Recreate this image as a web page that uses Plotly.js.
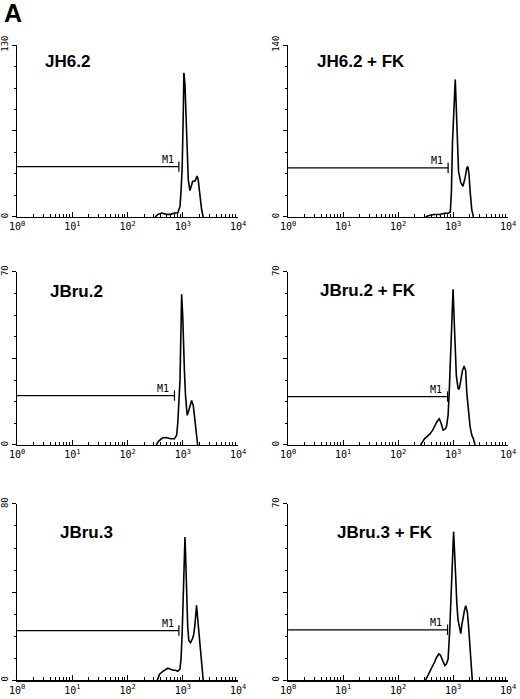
<!DOCTYPE html>
<html>
<head>
<meta charset="utf-8">
<script src="https://cdn.plot.ly/plotly-3.0.1.min.js"></script>
<style>html,body{margin:0;padding:0;background:#fff}</style>
</head>
<body>
<div id="chart" style="width:520px;height:699px"></div>
<script>
// panel labels and y-axis top count
var panelNames = ["JH6.2", "JH6.2 + FK", "JBru.2", "JBru.2 + FK", "JBru.3", "JBru.3 + FK"];
var yMax = [130, 140, 70, 70, 80, 70];

// histograms: channel position in decades (log10 of fluorescence) and counts
var jh62Log = [2.50, 2.55, 2.62, 2.70, 2.78, 2.85, 2.91, 2.95, 2.97, 2.99, 3.01, 3.02, 3.04, 3.06, 3.08, 3.10, 3.13, 3.16, 3.18, 3.22, 3.26, 3.28, 3.31, 3.34, 3.37];
var jh62Count = [0, 2, 3, 2, 2, 3, 3, 8, 20, 38, 80, 109, 100, 72, 40, 28, 20, 24, 27, 27, 31, 28, 16, 6, 0];

var jh62fkLog = [2.50, 2.55, 2.65, 2.75, 2.85, 2.91, 2.95, 2.97, 2.99, 3.02, 3.04, 3.05, 3.07, 3.10, 3.14, 3.18, 3.22, 3.25, 3.27, 3.29, 3.31, 3.34, 3.37];
var jh62fkCount = [0, 1, 2, 2, 3, 3, 4, 20, 61, 100, 112, 100, 75, 37, 28, 25, 32, 40, 41, 35, 21, 6, 0];

var jbru2Log = [2.52, 2.56, 2.63, 2.70, 2.78, 2.85, 2.89, 2.91, 2.95, 2.97, 2.98, 3.00, 3.01, 3.03, 3.05, 3.08, 3.11, 3.13, 3.16, 3.19, 3.22, 3.25, 3.27];
var jbru2Count = [0, 1.5, 2.8, 3, 2.5, 2.5, 4, 9, 26, 50, 61, 52, 40, 30, 20, 12, 14, 16, 18, 16, 10, 4, 0];

var jbru2fkLog = [2.41, 2.48, 2.53, 2.58, 2.63, 2.67, 2.71, 2.75, 2.78, 2.82, 2.86, 2.88, 2.91, 2.93, 2.96, 2.98, 3.00, 3.03, 3.06, 3.09, 3.11, 3.14, 3.17, 3.20, 3.23, 3.25, 3.28, 3.31, 3.34, 3.37, 3.40];
var jbru2fkCount = [0, 2.5, 3.5, 4.5, 6, 8, 9.5, 10.6, 9, 6, 6.5, 7.4, 12, 21, 39, 55, 63, 45, 28, 23, 22.5, 26, 30, 32, 30, 21, 14, 7.4, 4, 2.5, 0];

var jbru3Log = [2.54, 2.58, 2.64, 2.69, 2.73, 2.78, 2.82, 2.87, 2.91, 2.95, 2.97, 2.99, 3.01, 3.03, 3.04, 3.05, 3.07, 3.09, 3.11, 3.14, 3.18, 3.20, 3.22, 3.25, 3.27, 3.28, 3.31, 3.33, 3.37];
var jbru3Count = [0, 2.7, 4, 5, 5.4, 5, 4.5, 4.5, 4, 5, 10, 22, 45, 62, 65, 58, 37, 24, 18, 17, 19, 21, 25, 34, 28, 25, 17, 10, 0];

var jbru3fkLog = [2.50, 2.55, 2.61, 2.66, 2.70, 2.74, 2.77, 2.81, 2.85, 2.88, 2.91, 2.94, 2.97, 2.99, 3.01, 3.03, 3.05, 3.07, 3.09, 3.12, 3.14, 3.16, 3.18, 3.21, 3.23, 3.26, 3.28, 3.31, 3.35];
var jbru3fkCount = [0, 2, 4.6, 7, 9, 10.4, 10, 8, 5.8, 6.5, 8.4, 20, 38, 52, 59, 50, 38, 30, 24, 20, 18.5, 22, 25, 28, 29.6, 27, 22, 10.8, 0];

// M1 marker: end (decades) and height (counts)
var m1End = [2.93, 2.91, 2.85, 2.90, 2.93, 2.90];
var m1Level = [38, 40, 20, 19.6, 22.5, 20];

var histLogs = [jh62Log, jh62fkLog, jbru2Log, jbru2fkLog, jbru3Log, jbru3fkLog];
var histCounts = [jh62Count, jh62fkCount, jbru2Count, jbru2fkCount, jbru3Count, jbru3fkCount];

// layout bits
var xDomains = [[0.0327, 0.4577], [0.554, 0.977]];
var yDomains = [[0.6896, 0.9356], [0.3634, 0.6109], [0.027, 0.279]];
var titlePos = [[43, 62], [315, 62], [48, 292], [318, 290], [58, 532], [335, 532]];

var mono = "DejaVu Sans Mono";
var decadeVals = [1, 10, 100, 1000, 10000];
var decadeText = ["10<sup>0</sup>", "10<sup>1</sup>", "10<sup>2</sup>", "10<sup>3</sup>", "10<sup>4</sup>"];
var minorVals = [];
for (var d = 0; d < 4; d++) {
    for (var m = 2; m <= 9; m++) minorVals.push(m * Math.pow(10, d));
}

var data = [];
var layout = {
    width: 520,
    height: 699,
    margin: {l: 0, r: 0, t: 0, b: 0},
    paper_bgcolor: "#fff",
    plot_bgcolor: "#fff",
    showlegend: false,
    annotations: [{
        text: "<b>A</b>", xref: "paper", yref: "paper",
        x: 2 / 520, y: 1 - 13 / 699, xanchor: "left", yanchor: "middle",
        showarrow: false, font: {family: "Liberation Sans", size: 25, color: "#000"}
    }]
};

for (var i = 0; i < 6; i++) {
    var n = i === 0 ? "" : String(i + 1);
    var xa = "x" + n, ya = "y" + n;
    var col = i % 2, row = Math.floor(i / 2);

    data.push({
        x: histLogs[i].map(v => Math.pow(10, v)),
        y: histCounts[i],
        xaxis: xa, yaxis: ya,
        type: "scatter", mode: "lines",
        line: {color: "#000", width: 1.6}
    });

    // M1 gate bar with end tick
    var e = Math.pow(10, m1End[i]);
    data.push({
        x: [1, e], y: [m1Level[i], m1Level[i]],
        xaxis: xa, yaxis: ya, type: "scatter", mode: "lines",
        line: {color: "#000", width: 1.2}
    });
    data.push({
        x: [e, e], y: [m1Level[i] - yMax[i] * 0.03, m1Level[i] + yMax[i] * 0.03],
        xaxis: xa, yaxis: ya, type: "scatter", mode: "lines",
        line: {color: "#000", width: 1.2}
    });

    layout["xaxis" + n] = {
        type: "log", range: [0, 4], domain: xDomains[col], anchor: ya,
        showgrid: false, zeroline: false, showline: true, linecolor: "#000", linewidth: 1.5,
        tickmode: "array", tickvals: decadeVals, ticktext: decadeText,
        ticks: "inside", ticklen: 5, tickwidth: 1, tickcolor: "#000",
        minor: {tickmode: "array", tickvals: minorVals, ticks: "inside", ticklen: 3, tickwidth: 1, tickcolor: "#000"},
        tickfont: {family: mono, size: 10, color: "#000"}, fixedrange: true
    };
    layout["yaxis" + n] = {
        range: [0, yMax[i]], domain: yDomains[row], anchor: xa,
        showgrid: false, zeroline: false, showline: true, linecolor: "#000", linewidth: 1.5,
        tickmode: "array", tickvals: [0, yMax[i] / 2, yMax[i]], ticktext: ["0", "", String(yMax[i])],
        ticks: "outside", ticklen: 4, tickwidth: 1, tickcolor: "#000",
        minor: {tickmode: "linear", tick0: 0, dtick: yMax[i] / 8, ticks: "outside", ticklen: 2, tickwidth: 1, tickcolor: "#000"},
        tickangle: -90, tickfont: {family: mono, size: 9, color: "#000"}, fixedrange: true
    };

    layout.annotations.push({
        text: "<b>" + panelNames[i] + "</b>", xref: "paper", yref: "paper",
        x: titlePos[i][0] / 520, y: 1 - titlePos[i][1] / 699,
        xanchor: "left", yanchor: "middle", showarrow: false,
        font: {family: "Liberation Sans", size: 17, color: "#000"}
    });
    layout.annotations.push({
        text: "M1", xref: xa, yref: ya,
        x: m1End[i] - 0.06, y: m1Level[i], xanchor: "right", yanchor: "bottom",
        yshift: 0, showarrow: false,
        font: {family: mono, size: 10, color: "#000"}
    });
}

Plotly.newPlot("chart", data, layout, {displayModeBar: false, staticPlot: true});
</script>
</body>
</html>
